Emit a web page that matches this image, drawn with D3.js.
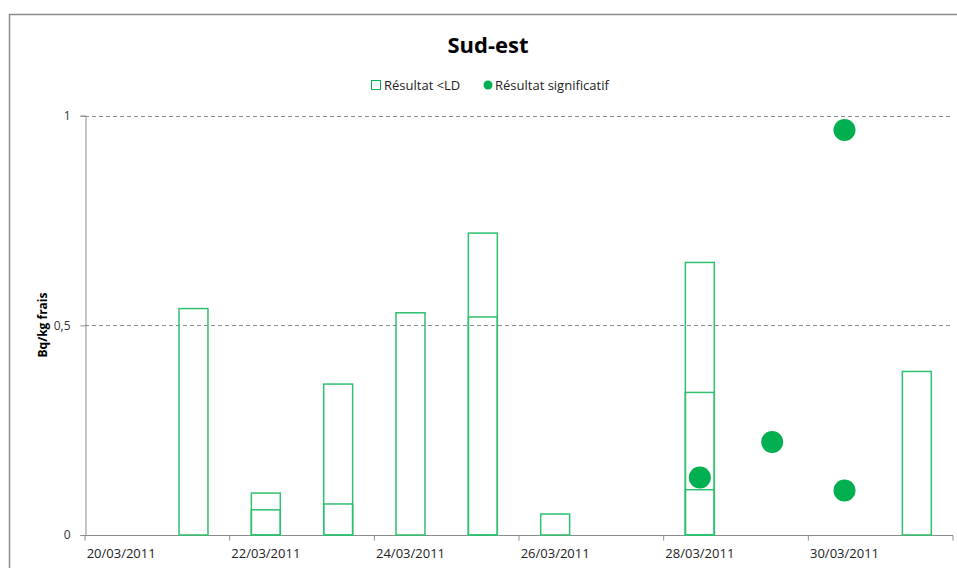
<!DOCTYPE html>
<html><head><meta charset="utf-8">
<script src="https://cdn.jsdelivr.net/npm/d3@7"></script>
<style>
body{margin:0;background:#fff;}
text{font-family:"Open Sans","Liberation Sans",sans-serif;}
</style></head>
<body><svg id="c" width="957" height="568"></svg>
<script>
// Data
const days = ["20/03/2011","21/03/2011","22/03/2011","23/03/2011","24/03/2011","25/03/2011","26/03/2011","27/03/2011","28/03/2011","29/03/2011","30/03/2011","31/03/2011"];
const tickLabels = ["20/03/2011","22/03/2011","24/03/2011","26/03/2011","28/03/2011","30/03/2011"];
// Résultat <LD (bars drawn from 0, overlapping on same day)
const ldDays   = ["21/03/2011","22/03/2011","22/03/2011","23/03/2011","23/03/2011","24/03/2011","25/03/2011","25/03/2011","26/03/2011","28/03/2011","28/03/2011","28/03/2011","31/03/2011"];
const ldValues = [0.54, 0.10, 0.06, 0.36, 0.074, 0.53, 0.72, 0.52, 0.05, 0.65, 0.34, 0.108, 0.39];
// Résultat significatif
const sigDays   = ["28/03/2011","29/03/2011","30/03/2011","30/03/2011"];
const sigValues = [0.137, 0.222, 0.966, 0.106];
const yTicks = [0, 0.5, 1];

(function(){
const svg = d3.select("#c");
const green = "#00B050";
const pL = 85, pR = 953, pT = 115.7, pB = 535;

// frame
svg.append("path").attr("d","M9.5,568 V14.5 H957").attr("fill","none").attr("stroke","#8c8c8c").attr("stroke-width",1.5);

const x = d3.scaleBand().domain(days).range([pL,pR]).paddingInner(0).paddingOuter(0);
const y = d3.scaleLinear().domain([0,1]).range([pB,pT]);
const fmt = v => String(v).replace(".",",");

// grid
svg.append("g").selectAll("line").data(yTicks.filter(d=>d>0)).join("line")
  .attr("x1",pL).attr("x2",pR).attr("y1",d=>Math.round(y(d))+0.5).attr("y2",d=>Math.round(y(d))+0.5)
  .attr("stroke","#8c8c8c").attr("stroke-dasharray","4,3");

// y axis
const ya = svg.append("g").attr("transform",`translate(${pL+0.5},0)`)
  .call(d3.axisLeft(y).tickValues(yTicks).tickFormat(fmt).tickSize(5).tickPadding(10));
ya.select(".domain").attr("stroke","#8c8c8c");
ya.selectAll(".tick line").attr("stroke","#8c8c8c");
ya.selectAll(".tick text").attr("font-size",12).attr("fill","#333");

// x axis
const xa = svg.append("g").attr("transform",`translate(0,${pB+0.5})`)
  .call(d3.axisBottom(x).tickValues(tickLabels).tickSize(0).tickPadding(13));
xa.select(".domain").attr("stroke","#8c8c8c").attr("d",`M${pL},0H${pR}`);
xa.selectAll(".tick text").attr("font-size",13).attr("fill","#222");
const bnd = days.filter((d,i)=>i%2===0).map(d=>x(d)).concat([pR]);
xa.append("g").selectAll("line").data(bnd).join("line")
  .attr("x1",d=>d).attr("x2",d=>d).attr("y1",0).attr("y2",5).attr("stroke","#8c8c8c");

// bars
const bw = x.bandwidth()*0.4;
svg.append("g").selectAll("rect").data(ldDays.map((d,i)=>({d,v:ldValues[i]}))).join("rect")
  .attr("x",p=>x(p.d)+x.bandwidth()/2-bw/2).attr("width",bw)
  .attr("y",p=>y(p.v)).attr("height",p=>y(0)-y(p.v))
  .attr("fill","none").attr("stroke","#2fc16e").attr("stroke-width",1.5);

// points
svg.append("g").selectAll("circle").data(sigDays.map((d,i)=>({d,v:sigValues[i]}))).join("circle")
  .attr("cx",p=>x(p.d)+x.bandwidth()/2).attr("cy",p=>y(p.v)).attr("r",11).attr("fill",green);

// title
svg.append("text").attr("x",488).attr("y",53).attr("text-anchor","middle")
  .attr("font-size",22).attr("font-weight","bold").attr("fill","#000").text("Sud-est");

// legend
const lg = svg.append("g");
lg.append("rect").attr("x",371.5).attr("y",80.5).attr("width",9).attr("height",9).attr("fill","none").attr("stroke",green).attr("stroke-width",1);
lg.append("text").attr("x",384).attr("y",90).attr("font-size",13).attr("fill","#222").text("Résultat <LD");
lg.append("circle").attr("cx",488).attr("cy",85).attr("r",4.5).attr("fill",green);
lg.append("text").attr("x",495).attr("y",90).attr("font-size",13).attr("fill","#222").text("Résultat significatif");

// y label
svg.append("text").attr("transform","translate(47,325) rotate(-90)").attr("text-anchor","middle")
  .attr("font-size",12).attr("font-weight","bold").attr("fill","#000").text("Bq/kg frais");
})();
</script></body></html>
